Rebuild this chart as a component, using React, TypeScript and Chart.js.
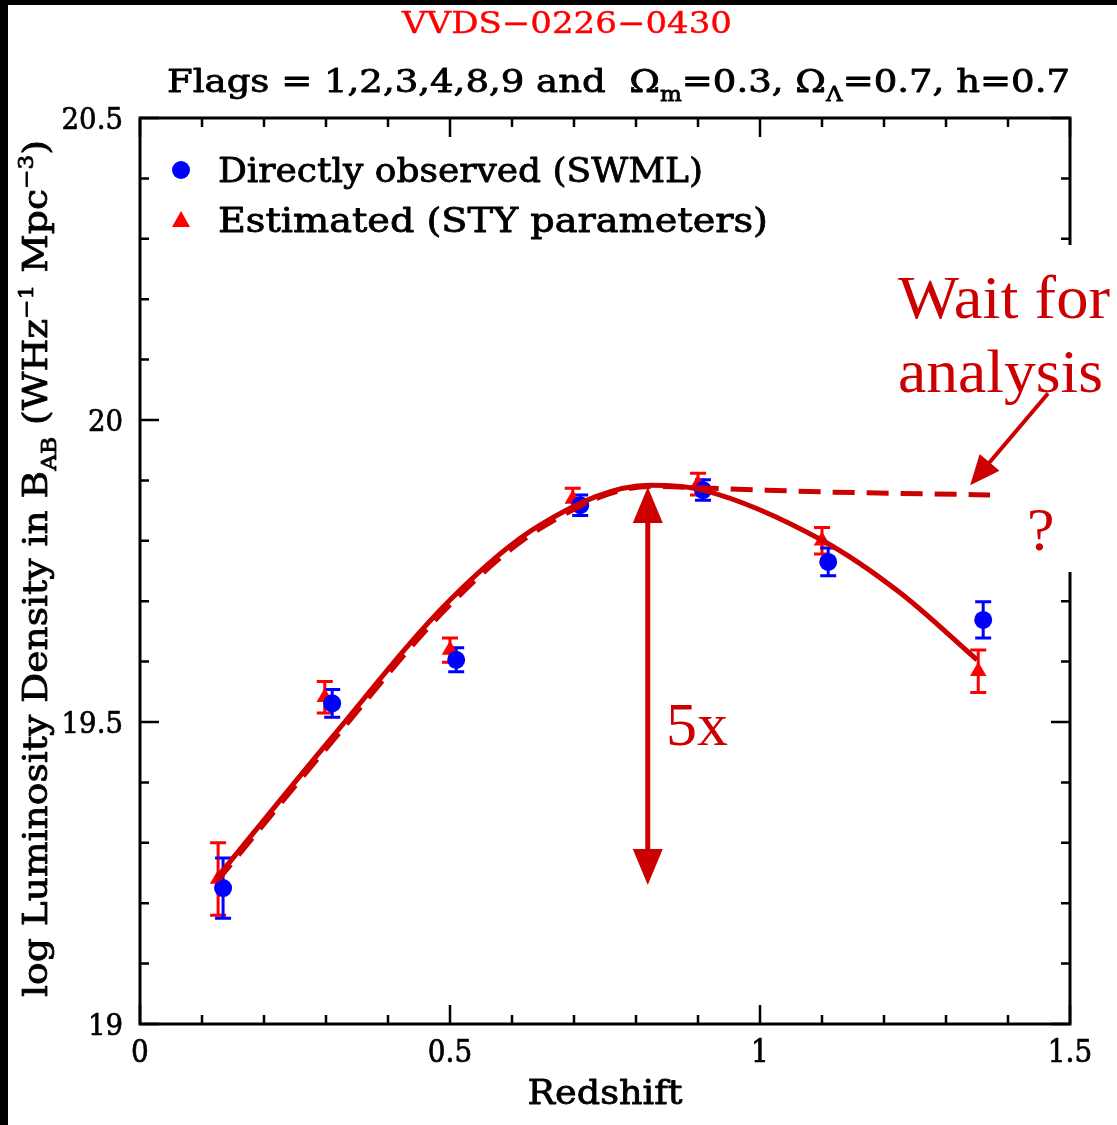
import React, { useEffect, useRef } from "react";
import { Chart, registerables } from "chart.js";

Chart.register(...registerables);

// ---- data ----
const swmlZ = [0.134, 0.31, 0.51, 0.71, 0.908, 1.11, 1.36];
const swmlLogL = [19.225, 19.531, 19.603, 19.859, 19.884, 19.765, 19.669];
const swmlErr = [0.05, 0.023, 0.02, 0.017, 0.017, 0.023, 0.03];

const styZ = [0.126, 0.298, 0.5, 0.698, 0.9, 1.1, 1.352];
const styLogL = [19.24, 19.541, 19.619, 19.869, 19.894, 19.8, 19.584];
const styErr = [0.06, 0.026, 0.02, 0.018, 0.018, 0.022, 0.035];

const fitSolidZ = [0.124, 0.306, 0.5, 0.645, 0.823, 0.908, 1.1, 1.226, 1.35];
const fitSolidLogL = [19.242, 19.47, 19.702, 19.826, 19.892, 19.884, 19.801, 19.714, 19.603];

const fitDashZ = [0.124, 0.306, 0.5, 0.645, 0.823, 0.95, 1.1, 1.371];
const fitDashLogL = [19.236, 19.463, 19.694, 19.82, 19.89, 19.886, 19.881, 19.876];

const xTickValues = [0, 0.5, 1, 1.5];
const xTickLabels = ["0", "0.5", "1", "1.5"];
const yTickValues = [19, 19.5, 20, 20.5];
const yTickLabels = ["19", "19.5", "20", "20.5"];
const minorStep = 0.1;

// annotation anchors (data coordinates)
const bigArrowZ = 0.819;
const bigArrowLogL = [19.889, 19.23];
const waitArrowFrom = [1.4645, 20.044];
const waitArrowTo = [1.339, 19.892];

const FAM = '"DejaVu Serif", serif';
const TIMES = '"Liberation Serif", "Times New Roman", serif';
const DARKRED = "#cc0000";

type Seg = { t: string; k?: "sub" | "sup" };

function segFont(size: number, k: string | undefined, fam: string) {
  return `${k ? size * 0.62 : size}px ${fam}`;
}
function measureRich(ctx: CanvasRenderingContext2D, segs: Seg[], size: number, fam: string) {
  let w = 0;
  for (const s of segs) {
    ctx.font = segFont(size, s.k, fam);
    w += ctx.measureText(s.t).width;
  }
  return w;
}
function drawRich(
  ctx: CanvasRenderingContext2D,
  segs: Seg[],
  x: number,
  y: number,
  size: number,
  fam: string,
  color: string,
  target: number | null,
  align: "left" | "center" | "right",
  weight = 0
) {
  const w = measureRich(ctx, segs, size, fam);
  const sx = target ? target / w : 1;
  ctx.save();
  ctx.translate(x, y);
  ctx.scale(sx, 1);
  let cx = align === "left" ? 0 : align === "center" ? -w / 2 : -w;
  ctx.fillStyle = color;
  ctx.strokeStyle = color;
  ctx.lineWidth = weight;
  ctx.lineJoin = "round";
  ctx.textBaseline = "alphabetic";
  ctx.textAlign = "left";
  for (const s of segs) {
    ctx.font = segFont(size, s.k, fam);
    const dy = s.k === "sub" ? size * 0.28 : s.k === "sup" ? -size * 0.42 : 0;
    ctx.fillText(s.t, cx, dy);
    if (weight > 0) ctx.strokeText(s.t, cx, dy);
    cx += ctx.measureText(s.t).width;
  }
  ctx.restore();
}

function arrowHead(ctx: CanvasRenderingContext2D, tx: number, ty: number, fx: number, fy: number, len: number, wid: number) {
  const ang = Math.atan2(ty - fy, tx - fx);
  const bx = tx - Math.cos(ang) * len;
  const by = ty - Math.sin(ang) * len;
  const px = -Math.sin(ang) * (wid / 2);
  const py = Math.cos(ang) * (wid / 2);
  ctx.beginPath();
  ctx.moveTo(tx, ty);
  ctx.lineTo(bx + px, by + py);
  ctx.lineTo(bx - px, by - py);
  ctx.closePath();
  ctx.fill();
}

const decorPlugin = {
  id: "decor",
  beforeDraw(chart: any) {
    const ctx = chart.ctx as CanvasRenderingContext2D;
    ctx.save();
    ctx.fillStyle = "#ffffff";
    ctx.fillRect(0, 0, chart.width, chart.height);
    ctx.restore();
  },
  beforeDatasetsDraw(chart: any) {
    const ctx = chart.ctx as CanvasRenderingContext2D;
    const xs = chart.scales.x;
    const ys = chart.scales.y;
    const L = xs.left, R = xs.right, T = ys.top, B = ys.bottom;
    ctx.save();
    ctx.strokeStyle = "#000000";
    // ticks
    ctx.lineWidth = 2.5;
    const nx = Math.round((xs.max - xs.min) / minorStep);
    for (let i = 0; i <= nx; i++) {
      const v = xs.min + i * minorStep;
      const major = Math.abs(v * 2 - Math.round(v * 2)) < 1e-6;
      const len = major ? 19 : 9;
      const px = xs.getPixelForValue(v);
      ctx.beginPath();
      ctx.moveTo(px, B);
      ctx.lineTo(px, B - len);
      ctx.moveTo(px, T);
      ctx.lineTo(px, T + len);
      ctx.stroke();
    }
    const ny = Math.round((ys.max - ys.min) / minorStep);
    for (let i = 0; i <= ny; i++) {
      const v = ys.min + i * minorStep;
      const major = Math.abs(v * 2 - Math.round(v * 2)) < 1e-6;
      const len = major ? 19 : 9;
      const py = ys.getPixelForValue(v);
      ctx.beginPath();
      ctx.moveTo(L, py);
      ctx.lineTo(L + len, py);
      ctx.moveTo(R, py);
      ctx.lineTo(R - len, py);
      ctx.stroke();
    }
    // frame
    ctx.lineWidth = 3;
    ctx.strokeRect(L, T, R - L, B - T);
    // white panel of the slide overlay hiding part of the right axis
    ctx.fillStyle = "#ffffff";
    ctx.fillRect(1045, 245, 72, 327);

    // tick labels
    ctx.fillStyle = "#000";
    ctx.strokeStyle = "#000";
    ctx.lineWidth = 0.7;
    xTickValues.forEach((v, i) => {
      const px = xs.getPixelForValue(v);
      ctx.save();
      ctx.translate(px, 1062);
      ctx.scale(0.9, 1);
      ctx.font = `31px ${FAM}`;
      ctx.textAlign = "center";
      ctx.textBaseline = "alphabetic";
      ctx.fillText(xTickLabels[i], 0, 0);
      ctx.strokeText(xTickLabels[i], 0, 0);
      ctx.restore();
    });
    yTickValues.forEach((v, i) => {
      const py = ys.getPixelForValue(v);
      ctx.save();
      ctx.translate(123, py + 11);
      ctx.scale(0.92, 1);
      ctx.font = `30px ${FAM}`;
      ctx.textAlign = "right";
      ctx.textBaseline = "alphabetic";
      ctx.fillText(yTickLabels[i], 0, 0);
      ctx.strokeText(yTickLabels[i], 0, 0);
      ctx.restore();
    });

    // error bars
    const drawErr = (zs: number[], ls: number[], es: number[], color: string) => {
      ctx.strokeStyle = color;
      ctx.lineWidth = 3;
      zs.forEach((z, i) => {
        const px = xs.getPixelForValue(z);
        const p1 = ys.getPixelForValue(ls[i] + es[i]);
        const p2 = ys.getPixelForValue(ls[i] - es[i]);
        ctx.beginPath();
        ctx.moveTo(px, p1);
        ctx.lineTo(px, p2);
        ctx.moveTo(px - 8, p1);
        ctx.lineTo(px + 8, p1);
        ctx.moveTo(px - 8, p2);
        ctx.lineTo(px + 8, p2);
        ctx.stroke();
      });
    };
    drawErr(styZ, styLogL, styErr, "#ff0000");
    drawErr(swmlZ, swmlLogL, swmlErr, "#0000ff");
    ctx.restore();
  },
  afterDraw(chart: any) {
    const ctx = chart.ctx as CanvasRenderingContext2D;
    const xs = chart.scales.x;
    const ys = chart.scales.y;
    ctx.save();

    // titles
    drawRich(ctx, [{ t: "VVDS\u22120226\u22120430" }], 402, 33, 29, FAM, "#ff0000", 330, "left", 0.4);
    drawRich(
      ctx,
      [
        { t: "Flags = 1,2,3,4,8,9 and  \u03A9" },
        { t: "m", k: "sub" },
        { t: "=0.3, \u03A9" },
        { t: "\u039B", k: "sub" },
        { t: "=0.7, h=0.7" },
      ],
      167,
      92,
      32,
      FAM,
      "#000",
      903,
      "left",
      0.8
    );
    // axis titles
    drawRich(ctx, [{ t: "Redshift" }], 605, 1104, 33, FAM, "#000", 155, "center", 0.8);
    ctx.save();
    ctx.translate(47, 997);
    ctx.rotate(-Math.PI / 2);
    drawRich(
      ctx,
      [
        { t: "log Luminosity Density in B" },
        { t: "AB", k: "sub" },
        { t: " (WHz" },
        { t: "\u22121", k: "sup" },
        { t: " Mpc" },
        { t: "\u22123", k: "sup" },
        { t: ")" },
      ],
      0,
      0,
      33,
      FAM,
      "#000",
      857,
      "left",
      0.8
    );
    ctx.restore();

    // legend
    ctx.fillStyle = "#0000ff";
    ctx.beginPath();
    ctx.arc(181, 170, 9, 0, Math.PI * 2);
    ctx.fill();
    ctx.fillStyle = "#ff0000";
    ctx.beginPath();
    ctx.moveTo(181, 211);
    ctx.lineTo(190, 227);
    ctx.lineTo(172, 227);
    ctx.closePath();
    ctx.fill();
    drawRich(ctx, [{ t: "Directly observed (SWML)" }], 218, 182, 33, FAM, "#000", 485, "left", 0.8);
    drawRich(ctx, [{ t: "Estimated (STY parameters)" }], 218, 232, 33, FAM, "#000", 550, "left", 0.8);

    // big double arrow
    ctx.strokeStyle = DARKRED;
    ctx.fillStyle = DARKRED;
    ctx.lineWidth = 5;
    const ax = xs.getPixelForValue(bigArrowZ);
    const aTop = ys.getPixelForValue(bigArrowLogL[0]);
    const aBot = ys.getPixelForValue(bigArrowLogL[1]);
    ctx.beginPath();
    ctx.moveTo(ax, aTop + 20);
    ctx.lineTo(ax, aBot - 20);
    ctx.stroke();
    arrowHead(ctx, ax, aTop, ax, aBot, 36, 30);
    arrowHead(ctx, ax, aBot, ax, aTop, 36, 30);

    // arrow to dashed curve
    const fx = xs.getPixelForValue(waitArrowFrom[0]);
    const fy = ys.getPixelForValue(waitArrowFrom[1]);
    const tx = xs.getPixelForValue(waitArrowTo[0]);
    const ty = ys.getPixelForValue(waitArrowTo[1]);
    ctx.lineWidth = 4;
    ctx.beginPath();
    ctx.moveTo(fx, fy);
    const ang = Math.atan2(ty - fy, tx - fx);
    ctx.lineTo(tx - Math.cos(ang) * 20, ty - Math.sin(ang) * 20);
    ctx.stroke();
    arrowHead(ctx, tx, ty, fx, fy, 30, 26);

    // annotation texts
    drawRich(ctx, [{ t: "5x" }], 666, 745, 62, TIMES, DARKRED, 62, "left");
    drawRich(ctx, [{ t: "Wait for" }], 898, 318, 62, TIMES, DARKRED, 212, "left");
    drawRich(ctx, [{ t: "analysis" }], 898, 392, 62, TIMES, DARKRED, 205, "left");
    drawRich(ctx, [{ t: "?" }], 1027, 550, 62, TIMES, DARKRED, null, "left");

    // black slide edges
    ctx.fillStyle = "#000";
    ctx.fillRect(0, 0, 8, chart.height);
    ctx.fillRect(0, 0, chart.width, 5);
    ctx.restore();
  },
};

export default function App() {
  const ref = useRef<HTMLCanvasElement | null>(null);
  useEffect(() => {
    document.body.style.margin = "0";
    document.body.style.overflow = "hidden";
    const canvas = ref.current;
    if (!canvas) return;
    const chart = new Chart(canvas, {
      type: "scatter",
      data: {
        datasets: [
          {
            type: "line",
            label: "fit",
            data: fitSolidZ.map((x, i) => ({ x, y: fitSolidLogL[i] })),
            borderColor: DARKRED,
            borderWidth: 5,
            pointRadius: 0,
            cubicInterpolationMode: "monotone",
            fill: false,
          } as any,
          {
            type: "line",
            label: "fit flat",
            data: fitDashZ.map((x, i) => ({ x, y: fitDashLogL[i] })),
            borderColor: DARKRED,
            borderWidth: 5,
            borderDash: [22, 12],
            pointRadius: 0,
            cubicInterpolationMode: "monotone",
            fill: false,
          } as any,
          {
            label: "Directly observed (SWML)",
            data: swmlZ.map((x, i) => ({ x, y: swmlLogL[i] })),
            pointStyle: "circle",
            pointRadius: 9,
            backgroundColor: "#0000ff",
            borderColor: "#0000ff",
            borderWidth: 0,
          },
          {
            label: "Estimated (STY parameters)",
            data: styZ.map((x, i) => ({ x, y: styLogL[i] })),
            pointStyle: "triangle",
            pointRadius: 9.5,
            backgroundColor: "#ff0000",
            borderColor: "#ff0000",
            borderWidth: 0,
          },
        ],
      },
      options: {
        responsive: false,
        animation: false,
        events: [],
        layout: { padding: { left: 140, right: 47, top: 118, bottom: 101 } },
        scales: {
          x: { type: "linear", min: 0, max: 1.5, display: false },
          y: { type: "linear", min: 19, max: 20.5, display: false },
        },
        plugins: { legend: { display: false }, tooltip: { enabled: false } },
      },
      plugins: [decorPlugin],
    });
    return () => chart.destroy();
  }, []);
  return (
    <div style={{ position: "absolute", left: 0, top: 0, width: 1117, height: 1125 }}>
      <canvas ref={ref} width={1117} height={1125} style={{ width: 1117, height: 1125, display: "block" }} />
    </div>
  );
}
